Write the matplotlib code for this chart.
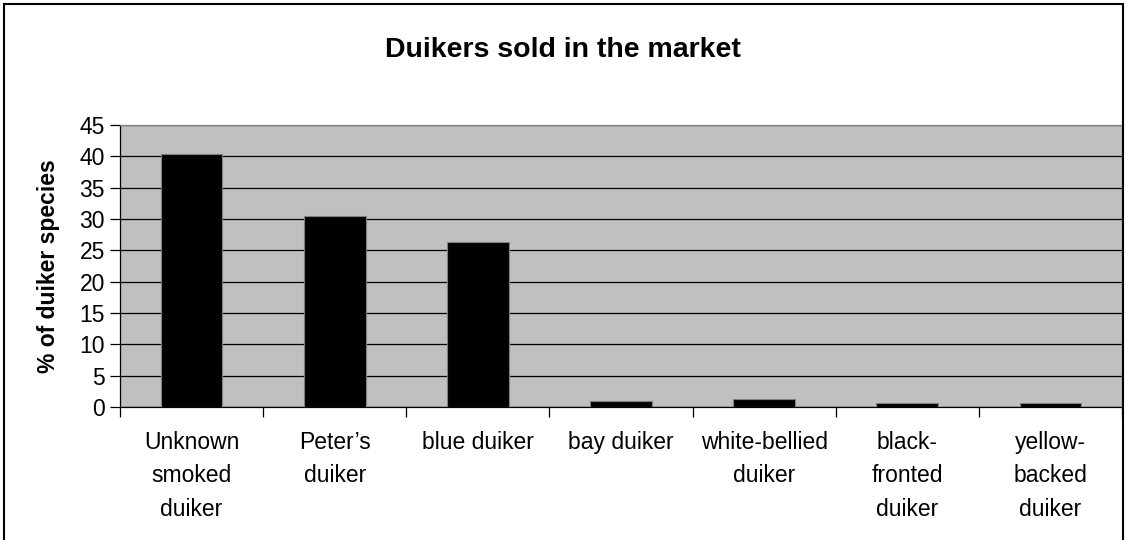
import matplotlib
matplotlib.use("Agg")
import matplotlib.pyplot as plt
from matplotlib.patches import Rectangle
import numpy as np

plt.rcParams['font.family'] = ['Liberation Sans', 'DejaVu Sans']

categories = ["Unknown\nsmoked\nduiker", "Peter\u2019s\nduiker", "blue duiker", "bay duiker",
              "white-bellied\nduiker", "black-\nfronted\nduiker", "yellow-\nbacked\nduiker"]
percent = [40.3, 30.5, 26.3, 1.0, 1.3, 0.7, 0.7]
yticks = [0, 5, 10, 15, 20, 25, 30, 35, 40, 45]

fig = plt.figure(figsize=(11.26, 5.40), dpi=100)
ax = fig.add_axes([0.1066, 0.2463, 0.8898, 0.5222])

x = np.arange(len(categories))
ax.set_facecolor('#c0c0c0')
ax.bar(x, percent, width=0.43, color='black', edgecolor='#808080', linewidth=0.8, zorder=3)

ax.set_xlim(-0.5, len(categories) - 0.5)
ax.set_ylim(0, 45)
ax.set_yticks(yticks)
ax.yaxis.grid(True, color='black', linewidth=0.9, zorder=1)
ax.set_axisbelow(True)

# category boundary ticks on x, labels centered in each category
ax.set_xticks(np.arange(len(categories) + 1) - 0.5)
ax.set_xticklabels([])
ax.set_xticks(x, minor=True)
ax.set_xticklabels(categories, minor=True, fontsize=16.5, linespacing=1.6, va='top')
ax.tick_params(axis='x', which='minor', length=0, pad=17)
ax.tick_params(axis='x', which='major', length=7, width=0.9, color='black', direction='out')
ax.tick_params(axis='y', length=7, width=0.9, color='black', labelsize=16.5, pad=4)

for s in ['top', 'right']:
    ax.spines[s].set_color('#808080')
    ax.spines[s].set_linewidth(0.9)
for s in ['left', 'bottom']:
    ax.spines[s].set_color('black')
    ax.spines[s].set_linewidth(0.9)

ax.set_ylabel('% of duiker species', fontsize=16.5, fontweight='bold', labelpad=14)
fig.text(0.5, 1 - 50 / 540, 'Duikers sold in the market', ha='center', va='center',
         fontsize=20.5, fontweight='bold')

# outer chart border
fig.patches.append(Rectangle((4 / 1126, -0.05), 1119 / 1126, 1.05 - 4 / 540,
                             transform=fig.transFigure, fill=False,
                             edgecolor='black', linewidth=1.5))

fig.savefig('out.png', dpi=100, facecolor='white')
